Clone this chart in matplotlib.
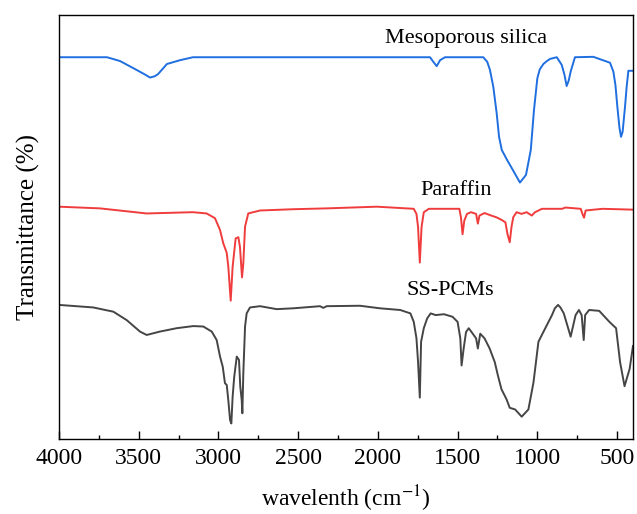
import matplotlib
matplotlib.use('Agg')
import matplotlib.pyplot as plt
from matplotlib.ticker import MultipleLocator

# FTIR spectra (wavenumber in cm-1, transmittance in arb. units)
silica_wn = [4000, 3699, 3617, 3523, 3460, 3429, 3400, 3379, 3323, 3241, 3160,
             2488, 1736, 1673, 1652, 1631, 1610, 1579, 1339, 1314, 1297, 1276,
             1255, 1240, 1223, 1192, 1151, 1109, 1071, 1041, 1021, 1000, 985,
             962, 940, 920, 878, 847, 830, 816, 803, 791, 764, 649, 544, 523,
             510, 498, 485, 475, 465, 450, 440, 429, 400]
silica_t = [90.1, 90.1, 89.2, 87.3, 86.0, 85.3, 85.6, 86.1, 88.5, 89.4, 90.1,
            90.1, 90.1, 90.1, 89.0, 88.0, 89.4, 90.1, 90.1, 89.0, 87.1, 83.1,
            76.9, 71.3, 68.2, 66.0, 63.3, 60.5, 62.3, 68.2, 77.6, 85.1, 87.2,
            88.5, 89.2, 89.7, 90.1, 88.3, 86.0, 83.3, 84.6, 86.7, 90.1, 90.2, 88.8,
            86.7, 83.5, 78.4, 73.5, 71.3, 72.5, 78.4, 83.0, 86.9, 86.9]

paraffin_wn = [4000, 3743, 3450, 3160, 3074, 3022, 2990, 2970, 2948, 2938, 2923,
               2911, 2892, 2875, 2865, 2852, 2844, 2833, 2813, 2739, 2532, 2321,
               2007, 1775, 1758, 1748, 1737, 1726, 1712, 1680, 1489, 1479, 1469,
               1458, 1441, 1416, 1384, 1373, 1363, 1331, 1289, 1257, 1225, 1200,
               1187, 1173, 1162, 1151, 1130, 1099, 1067, 1035, 1014, 971, 845,
               823, 728, 717, 707, 697, 591, 400]
paraffin_t = [54.8, 54.4, 53.2, 53.5, 53.2, 52.1, 49.3, 46.2, 43.9, 40.6, 32.6,
              40.6, 47.3, 47.6, 45.3, 38.1, 41.4, 50.1, 53.2, 53.9, 54.2, 54.4,
              54.8, 54.3, 53.1, 50.0, 41.6, 50.0, 53.5, 54.3, 54.3, 52.3, 48.3,
              51.5, 53.1, 53.5, 53.1, 50.8, 52.7, 53.3, 52.7, 52.3, 51.7, 51.1,
              48.3, 46.4, 50.0, 52.3, 53.5, 53.1, 53.5, 52.7, 53.5, 54.3, 54.3,
              54.6, 54.3, 53.1, 52.2, 53.9, 54.3, 54.1]

sspcm_wn = [4000, 3785, 3659, 3575, 3492, 3450, 3367, 3262, 3158, 3095, 3042,
            3011, 2990, 2973, 2959, 2948, 2938, 2927, 2919, 2911, 2901, 2885,
            2871, 2863, 2854, 2850, 2844, 2833, 2823, 2802, 2739, 2635, 2530,
            2363, 2342, 2321, 2112, 1987, 1860, 1796, 1775, 1758, 1748, 1737,
            1729, 1712, 1691, 1669, 1638, 1585, 1532, 1500, 1483, 1475, 1462,
            1447, 1430, 1405, 1384, 1373, 1358, 1331, 1299, 1267, 1247, 1225,
            1193, 1173, 1139, 1098, 1056, 1024, 993, 950, 908, 890, 870, 855,
            834, 791, 760, 739, 722, 709, 700, 675, 612, 548, 506, 481, 453, 421, 400]
sspcm_t = [31.6, 31.0, 30.0, 28.0, 25.3, 24.5, 25.3, 26.1, 26.6, 26.5, 25.3,
           23.3, 19.4, 17.0, 13.1, 12.7, 9.1, 4.4, 3.6, 9.9, 14.6, 19.4,
           18.6, 12.3, 9.1, 6.0, 15.4, 26.5, 29.6, 31.0, 31.3, 30.6, 30.8,
           31.3, 30.9, 31.3, 31.4, 30.8, 30.4, 29.6, 27.6, 23.7, 18.1, 9.7,
           22.9, 26.1, 28.4, 29.6, 29.2, 29.4, 28.8, 27.6, 23.7, 17.3, 21.3,
           25.2, 26.1, 24.8, 23.7, 21.3, 24.8, 23.7, 21.3, 18.1, 14.9, 11.7,
           9.3, 7.3, 6.9, 5.2, 6.9, 13.3, 22.9, 26.1, 29.2, 30.8, 31.6, 31.0,
           29.6, 24.1, 29.2, 30.4, 29.2, 23.3, 29.2, 30.4, 30.2, 27.6, 26.1,
           18.1, 12.4, 16.5, 21.9]

plt.rcParams['font.family'] = ['Liberation Serif', 'DejaVu Serif']
plt.rcParams['mathtext.fontset'] = 'stix'

fig = plt.figure(figsize=(6.37, 5.14), dpi=100)
ax = fig.add_axes([0.0926, 0.1465, 0.9011, 0.8237])

ax.plot(silica_wn, silica_t, color='#1f6fe0', lw=1.4)
ax.plot(paraffin_wn, paraffin_t, color='#f03c3c', lw=1.4)
ax.plot(sspcm_wn, sspcm_t, color='#454545', lw=1.4)

ax.text(1447, 94.6, 'Mesoporous silica', fontsize=16, ha='center', va='center')
ax.text(1510, 58.7, 'Paraffin', fontsize=16, ha='center', va='center')
ax.text(1548, 35.1, 'SS-PCMs', fontsize=16, ha='center', va='center')

ax.set_xlim(4000, 400)
ax.set_ylim(0, 100)
ax.xaxis.set_major_locator(MultipleLocator(500))
ax.xaxis.set_minor_locator(MultipleLocator(250))
ax.tick_params(axis='x', which='major', direction='in', length=6, width=1,
               labelsize=17, pad=7)
ax.tick_params(axis='x', which='minor', direction='in', length=3, width=1)
ax.set_yticks([])
for sp in ax.spines.values():
    sp.set_linewidth(1.0)

ax.set_xlabel(r'wavelenth (cm$^{-1}$)', fontsize=17, labelpad=10)
ax.set_ylabel('Transmittance (%)', fontsize=18, labelpad=14)

plt.savefig('out.png', dpi=100)
